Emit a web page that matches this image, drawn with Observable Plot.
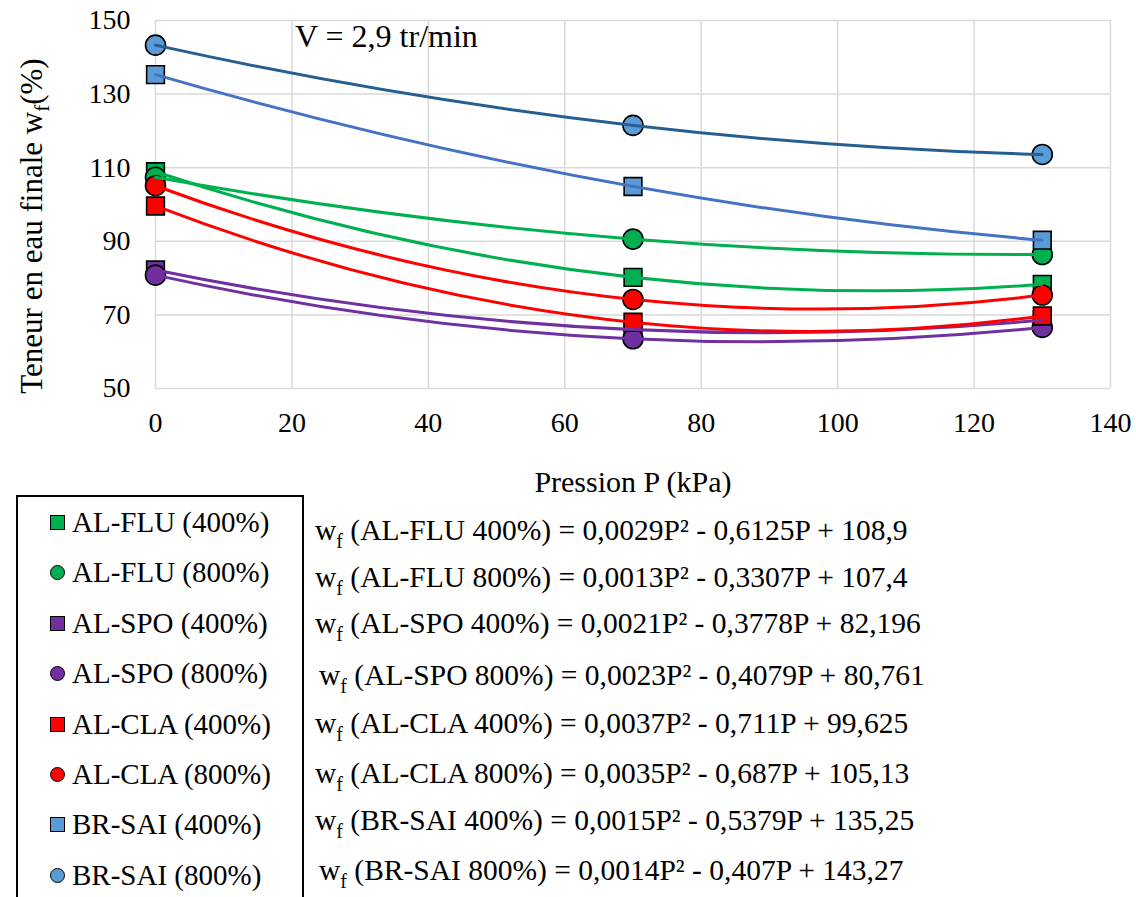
<!DOCTYPE html>
<html><head><meta charset="utf-8">
<script src="https://cdn.jsdelivr.net/npm/d3@7"></script>
<script src="https://cdn.jsdelivr.net/npm/@observablehq/plot@0.6"></script>
<style>
body{margin:0;background:#fff;}
#wrap{position:relative;width:1136px;height:897px;overflow:hidden;font-family:"Liberation Serif","Times New Roman",Times,"DejaVu Serif",serif;color:#000;}
#wrap svg{position:absolute;left:0;top:0;}
.legbox{position:absolute;left:16px;top:495px;width:288px;height:440px;border:2px solid #000;box-sizing:border-box;}
.legrow{position:absolute;left:0;height:28px;line-height:28px;font-size:29px;white-space:nowrap;}
.legrow .mk{position:absolute;left:32px;top:7px;width:15px;height:15px;box-sizing:border-box;border:1.5px solid #000;}
.legrow .mk.circle{border-radius:50%;}
.legrow .tx{position:absolute;left:54px;top:0;}
.eq{position:absolute;height:28px;line-height:28px;font-size:29.5px;white-space:nowrap;}
.eq sub{font-size:20px;vertical-align:-8px;line-height:0;}
</style></head><body><div id="wrap"></div>
<script>
// ---- data ----
const pressure = [0, 70, 130];
const seriesNames = ["AL-FLU (400%)", "AL-FLU (800%)", "AL-SPO (400%)", "AL-SPO (800%)", "AL-CLA (400%)", "AL-CLA (800%)", "BR-SAI (400%)", "BR-SAI (800%)"];
const alFlu400 = [108.9, 80.2, 78.3];
const alFlu800 = [107.4, 90.6, 86.4];
const alSpo400 = [82.2, 66.0, 68.6];
const alSpo800 = [80.8, 63.5, 66.6];
const alCla400 = [99.6, 68.0, 69.7];
const alCla800 = [105.1, 74.2, 75.4];
const brSai400 = [135.3, 104.9, 90.3];
const brSai800 = [143.3, 121.5, 113.6];
const seriesValues = [alFlu400, alFlu800, alSpo400, alSpo800, alCla400, alCla800, brSai400, brSai800];
const markerShapes = ["square", "circle", "square", "circle", "square", "circle", "square", "circle"];
const markerFills = ["#00B050", "#00B050", "#7030A0", "#7030A0", "#FF0000", "#FF0000", "#5B9BD5", "#5B9BD5"];
const lineColors = ["#00B050", "#00B050", "#7030A0", "#7030A0", "#FF0000", "#FF0000", "#4472C4", "#255E91"];
const equations = [
  ["AL-FLU 400%", "0,0029P² - 0,6125P + 108,9"],
  ["AL-FLU 800%", "0,0013P² - 0,3307P + 107,4"],
  ["AL-SPO 400%", "0,0021P² - 0,3778P + 82,196"],
  ["AL-SPO 800%", "0,0023P² - 0,4079P + 80,761"],
  ["AL-CLA 400%", "0,0037P² - 0,711P + 99,625"],
  ["AL-CLA 800%", "0,0035P² - 0,687P + 105,13"],
  ["BR-SAI 400%", "0,0015P² - 0,5379P + 135,25"],
  ["BR-SAI 800%", "0,0014P² - 0,407P + 143,27"]
];
const xTicks = [0, 20, 40, 60, 80, 100, 120, 140];
const yTicks = [50, 70, 90, 110, 130, 150];
const xLabel = "Pression P (kPa)";
const annotation = "V = 2,9 tr/min";
const FONT = '"Liberation Serif","Times New Roman",Times,"DejaVu Serif",serif';

// ---- table ----
const rows = [];
seriesNames.forEach((s, i) => pressure.forEach((p, j) => rows.push({
  series: s, P: p, w: seriesValues[i][j], symbol: markerShapes[i], fill: markerFills[i], stroke: lineColors[i]
})));

// Excel-style order-2 polynomial trendline through the points: a parabola drawn as a quadratic Bézier
function parabola(context) {
  let pts;
  return {
    areaStart() {}, areaEnd() {},
    lineStart() { pts = []; },
    point(x, y) { pts.push([+x, +y]); },
    lineEnd() {
      if (!pts.length) return;
      context.moveTo(pts[0][0], pts[0][1]);
      if (pts.length === 3) {
        const [[x0, y0], [x1, y1], [x2, y2]] = pts;
        const d0 = y0 * (2 * x0 - x1 - x2) / ((x0 - x1) * (x0 - x2))
                 + y1 * (x0 - x2) / ((x1 - x0) * (x1 - x2))
                 + y2 * (x0 - x1) / ((x2 - x0) * (x2 - x1));
        context.quadraticCurveTo((x0 + x2) / 2, y0 + d0 * (x2 - x0) / 2, x2, y2);
      } else {
        for (let i = 1; i < pts.length; i++) context.lineTo(pts[i][0], pts[i][1]);
      }
    }
  };
}

const chart = Plot.plot({
  width: 1136,
  height: 500,
  marginLeft: 155,
  marginRight: 26,
  marginTop: 20,
  marginBottom: 112,
  style: {fontFamily: FONT, fontSize: "28px", color: "#000", background: "transparent"},
  x: {domain: [0, 140]},
  y: {domain: [50, 150]},
  color: {type: "identity"},
  marks: [
    Plot.gridX(xTicks, {stroke: "#d9d9d9", strokeOpacity: 1, strokeWidth: 1.5}),
    Plot.gridY(yTicks, {stroke: "#d9d9d9", strokeOpacity: 1, strokeWidth: 1.5}),
    Plot.axisX(xTicks, {tickSize: 0, tickPadding: 24, label: null, tickFormat: d => String(d), fontFamily: FONT}),
    Plot.axisY(yTicks, {tickSize: 0, tickPadding: 25, label: null, tickFormat: d => String(d), fontFamily: FONT}),
    Plot.dot(rows, {x: "P", y: "w", symbol: "symbol", fill: "fill", stroke: "#000", strokeWidth: 1.6, r: 10}),
    Plot.line(rows, {x: "P", y: "w", z: "series", stroke: "stroke", strokeWidth: 3, curve: parabola})
  ]
});

const wrap = document.getElementById("wrap");
wrap.appendChild(chart);

const svg = d3.select(chart);
// x axis title
svg.append("text").attr("x", 633).attr("y", 492).attr("text-anchor", "middle")
  .attr("font-family", FONT).attr("font-size", 30).attr("fill", "#000").text(xLabel);
// annotation inside the plot
svg.append("text").attr("x", 295).attr("y", 47).attr("text-anchor", "start")
  .attr("font-family", FONT).attr("font-size", 32).attr("fill", "#000").text(annotation);
// y axis title with subscript
const yt = svg.append("text").attr("transform", "translate(42,226) rotate(-90)")
  .attr("text-anchor", "middle").attr("font-family", FONT).attr("font-size", 31).attr("fill", "#000");
yt.append("tspan").text("Teneur en eau finale w");
yt.append("tspan").attr("font-size", 21).attr("dy", 7).text("f");
yt.append("tspan").attr("dy", -7).text("(%)");

// legend
const box = document.createElement("div");
box.className = "legbox";
wrap.appendChild(box);
seriesNames.forEach((s, i) => {
  const r = document.createElement("div");
  r.className = "legrow";
  r.style.top = (522 + 50.4 * i - 14 - 495 - 2) + "px";
  const mk = document.createElement("span");
  mk.className = "mk " + markerShapes[i];
  mk.style.background = markerFills[i];
  const tx = document.createElement("span");
  tx.className = "tx";
  tx.textContent = s;
  r.appendChild(mk); r.appendChild(tx);
  box.appendChild(r);
});

// trendline equations
const eqCenters = [530, 577, 623, 675, 723, 773, 820, 870];
const eqLefts = [315, 315, 315, 319, 315, 315, 315, 319];
equations.forEach(([name, expr], i) => {
  const e = document.createElement("div");
  e.className = "eq";
  e.style.left = eqLefts[i] + "px";
  e.style.top = (eqCenters[i] - 14) + "px";
  e.append("w");
  const sb = document.createElement("sub"); sb.textContent = "f";
  e.appendChild(sb);
  e.append(" (" + name + ") = " + expr);
  wrap.appendChild(e);
});
</script>
</body></html>
